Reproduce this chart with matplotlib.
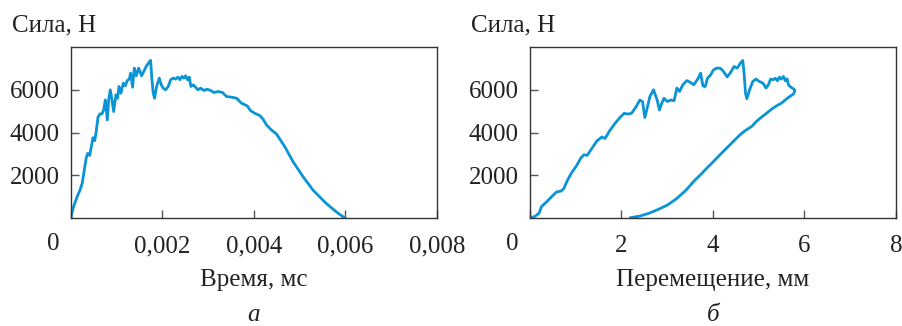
import matplotlib
matplotlib.use("Agg")
import matplotlib.pyplot as plt

# Сила от времени (а)
t_s = [0, 0.0000364, 0.00008, 0.000138, 0.000197, 0.000247, 0.000284, 0.000335, 0.000364,
       0.000408, 0.000444, 0.00048, 0.000517, 0.000546, 0.00059, 0.000633, 0.000677, 0.000713,
       0.00075, 0.000793, 0.000823, 0.000859, 0.000895, 0.000932, 0.000983, 0.001019, 0.001048,
       0.001092, 0.001143, 0.001187, 0.00123, 0.001274, 0.001303, 0.001346, 0.001383, 0.001427,
       0.001478, 0.001543, 0.001601, 0.001652, 0.001703, 0.00174, 0.001769, 0.001798, 0.001827,
       0.001871, 0.001929, 0.001973, 0.002016, 0.002067, 0.002126, 0.002177, 0.002235, 0.002286,
       0.002337, 0.00238, 0.002424, 0.002468, 0.002504, 0.002548, 0.002584, 0.002621, 0.002671,
       0.002722, 0.002773, 0.002832, 0.002904, 0.002977, 0.00305, 0.003123, 0.003217, 0.003312,
       0.0034, 0.003509, 0.003618, 0.003727, 0.003851, 0.003923, 0.004018, 0.004128, 0.0042,
       0.004273, 0.004382, 0.004491, 0.004673, 0.004855, 0.005074, 0.005292, 0.005583, 0.005802,
       0.005984]
force_t = [0, 391, 673, 1018, 1299, 1644, 2160, 2834, 3022,
           2928, 3335, 3757, 3617, 3961, 4712, 4869, 4869, 5057,
           5526, 4587, 5526, 5996, 5526, 4979, 5761, 5605, 6153,
           5840, 6309, 6184, 6435, 6497, 6779, 6121, 7014, 6654,
           7014, 6654, 6904, 7123, 7280, 7374, 6466, 5840, 5605,
           6153, 6544, 6231, 6074, 5996, 6153, 6466, 6544, 6497,
           6591, 6466, 6622, 6544, 6654, 6466, 6591, 6153, 6231,
           6121, 5996, 6074, 5965, 6027, 5965, 5871, 5918, 5871,
           5683, 5652, 5605, 5370, 5245, 5025, 4900, 4791, 4619,
           4352, 4117, 3930, 3335, 2630, 1926, 1299, 673, 282,
           0]

# Сила от перемещения (б): нагружение и разгрузка
disp_mm = [0, 0.11, 0.2, 0.25, 0.36, 0.47, 0.58, 0.68, 0.74, 0.82, 0.91, 1.01, 1.11, 1.18,
           1.25, 1.35, 1.46, 1.57, 1.64, 1.75, 1.86, 1.97, 2.06, 2.13, 2.22, 2.32, 2.40, 2.46,
           2.51, 2.56, 2.62, 2.70, 2.78, 2.83, 2.88, 2.93, 3.00, 3.08, 3.15, 3.21, 3.27, 3.34,
           3.43, 3.51, 3.58, 3.68, 3.73, 3.78, 3.83, 3.88, 3.95, 4.01, 4.08, 4.16, 4.23, 4.31,
           4.40, 4.46, 4.53, 4.60, 4.65, 4.68, 4.71, 4.74, 4.80, 4.87, 4.94, 5.01, 5.09, 5.16,
           5.21, 5.26, 5.32, 5.36, 5.41, 5.45, 5.49, 5.54, 5.58, 5.62, 5.65, 5.70, 5.76, 5.79,
           5.76, 5.68, 5.60, 5.50, 5.39, 5.28, 5.17, 5.06, 4.95, 4.85, 4.72, 4.62, 4.50, 4.35,
           4.20, 4.00, 3.85, 3.73, 3.60, 3.40, 3.20, 3.00, 2.80, 2.60, 2.40, 2.20]
force_d = [0, 80, 230, 530, 750, 990, 1220, 1260, 1380, 1770, 2120, 2420, 2800, 2960,
           2930, 3250, 3600, 3790, 3720, 4110, 4430, 4710, 4900, 4860, 4900, 5210, 5520, 5440,
           4700, 5130, 5680, 6000, 5520, 5050, 5370, 5600, 5450, 5520, 5490, 6080, 5920, 6230,
           6430, 6340, 6230, 6550, 6780, 6180, 6150, 6540, 6700, 6930, 7010, 7010, 6850, 6600,
           6860, 7090, 7010, 7250, 7370, 6780, 5840, 5580, 6000, 6390, 6500, 6390, 6310, 6080,
           6230, 6500, 6470, 6540, 6420, 6590, 6500, 6620, 6420, 6510, 6230, 6120, 6040, 5970,
           5800, 5690, 5560, 5380, 5250, 5090, 4900, 4720, 4520, 4290, 4110, 3950, 3700, 3380,
           3060, 2620, 2300, 2030, 1760, 1280, 900, 600, 400, 220, 90, 15]

x_ticks_t = [0, 0.002, 0.004, 0.006, 0.008]
x_labels_t = ["", "0,002", "0,004", "0,006", "0,008"]
x_ticks_d = [0, 2, 4, 6, 8]
x_labels_d = ["", "2", "4", "6", "8"]
y_ticks = [2000, 4000, 6000]

plt.rcParams["font.family"] = ["Liberation Serif", "DejaVu Serif"]
plt.rcParams["font.size"] = 18

color = "#0a94d6"
fig = plt.figure(figsize=(9.03, 3.26), dpi=100)

ax1 = fig.add_axes([71/903, 1-218/326, 366/903, 171/326])
ax2 = fig.add_axes([530/903, 1-218/326, 366/903, 171/326])

ax1.plot(t_s, force_t, color=color, lw=2.0, solid_joinstyle="round")
ax2.plot(disp_mm, force_d, color=color, lw=2.0, solid_joinstyle="round")

for ax, xt, xl, xmax, xlab, letter in [
        (ax1, x_ticks_t, x_labels_t, 0.008, "Время, мс", "а"),
        (ax2, x_ticks_d, x_labels_d, 8, "Перемещение, мм", "б")]:
    ax.set_xlim(0, xmax)
    ax.set_ylim(0, 8000)
    ax.set_xticks(xt)
    ax.set_xticklabels(xl)
    ax.set_yticks(y_ticks)
    ax.set_yticklabels([str(v) for v in y_ticks])
    ax.tick_params(direction="in", length=5.5, width=1, color="#555555",
                   labelcolor="#222222")
    ax.tick_params(axis="x", pad=12.5)
    ax.tick_params(axis="y", pad=8)
    for s in ax.spines.values():
        s.set_color("#333333")
        s.set_linewidth(1.0)
    # "0" стоит левее начала оси
    ax.annotate("0", xy=(0, 0), xycoords="axes fraction", xytext=(-18, -26),
                textcoords="offset pixels", ha="center", va="center", color="#222222")
    ax.annotate("Сила, Н", xy=(0, 1), xycoords="axes fraction", xytext=(-59, 22),
                textcoords="offset pixels", ha="left", va="center", color="#222222")
    ax.annotate(xlab, xy=(0.5, 0), xycoords="axes fraction", xytext=(0, -62),
                textcoords="offset pixels", ha="center", va="center", color="#222222")
    ax.annotate(letter, xy=(0.5, 0), xycoords="axes fraction", xytext=(0, -103),
                textcoords="offset pixels", ha="center", va="baseline",
                style="italic", color="#222222")

fig.savefig("out.png", dpi=100)
